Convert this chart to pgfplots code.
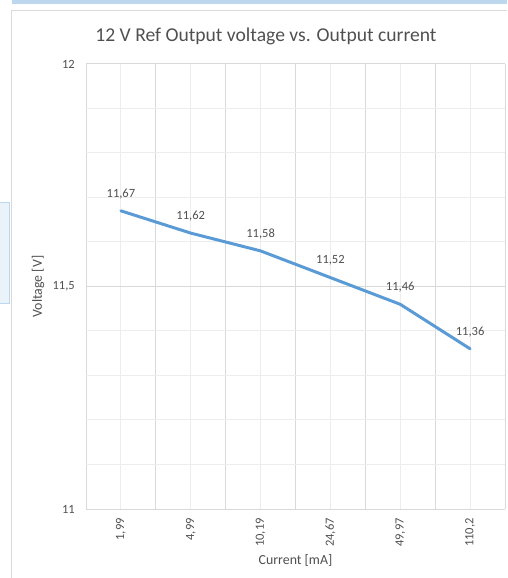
\documentclass[border=0pt]{standalone}
\usepackage{fontspec}
\setmainfont{Carlito}
\usepackage{pgfplots}
\pgfplotsset{compat=1.18}
\definecolor{lineblue}{HTML}{5B9BD5}
\definecolor{txt}{HTML}{505050}
\definecolor{majg}{HTML}{D9D9D9}
\definecolor{ming}{HTML}{EDEDED}
\definecolor{frame}{HTML}{DADADA}
\definecolor{topbar}{HTML}{BDD7EE}
\definecolor{boxfill}{HTML}{EAF2FA}
\begin{document}
\begin{tikzpicture}[x=0.75pt,y=0.75pt]
\path[use as bounding box] (-86,-69) rectangle (421,509);
% decorations of the screenshot
\fill[topbar] (-74,505) rectangle (421,509);
\draw[frame, line width=0.75pt] (-74,-69) -- (-74,498) -- (421,498);
\filldraw[fill=boxfill, draw=topbar, line width=0.75pt] (-86.5,205) rectangle (-76,306);
\node[color=txt, font=\fontsize{14.7}{17}\selectfont] at (180,473) {12 V Ref Output voltage vs. Output current};
\begin{axis}[
  at={(0,0)}, anchor=south west, scale only axis,
  width=314.25pt, height=333.75pt,
  xmin=-0.5, xmax=5.5, ymin=11, ymax=12,
  xtick={0,...,5},
  xticklabels={{1,99},{4,99},{10,19},{24,67},{49,97},{110,2}},
  minor xtick={-0.5,0.5,1.5,2.5,3.5,4.5,5.5},
  ytick={11,11.5,12}, yticklabels={11,{11,5},12},
  minor ytick={11.1,11.2,11.3,11.4,11.6,11.7,11.8,11.9},
  grid=both,
  major x grid style={color=ming, line width=0.75pt},
  minor x grid style={color=majg, line width=0.75pt},
  major y grid style={color=majg, line width=0.75pt},
  minor y grid style={color=ming, line width=0.75pt},
  axis line style={draw=none},
  major tick length=0pt, minor tick length=0pt,
  tick label style={color=txt, font=\fontsize{9.4}{11}\selectfont},
  xticklabel style={rotate=90, anchor=east, inner sep=0pt},
  xticklabel shift=6.75pt,
  yticklabel style={anchor=east, inner sep=0pt},
  yticklabel shift=8.25pt,
  xlabel={Current [mA]}, ylabel={Voltage [V]},
  label style={color=txt, font=\fontsize{10.4}{12}\selectfont},
  xlabel style={at={(axis description cs:0.5,-0.1146)}, anchor=center},
  ylabel style={at={(axis description cs:-0.1146,0.5)}, anchor=center},
  clip=false,
]
\addplot[color=lineblue, line width=2.25pt, line cap=round, line join=round,
  nodes near coords, point meta=explicit symbolic,
  every node near coord/.append style={anchor=center, yshift=12.75pt, color=txt, font=\fontsize{9.4}{11}\selectfont}]
  table[meta=label] {
x y label
0 11.67 11,67
1 11.62 11,62
2 11.58 11,58
3 11.52 11,52
4 11.46 11,46
5 11.36 11,36
};
\end{axis}
\end{tikzpicture}
\end{document}
